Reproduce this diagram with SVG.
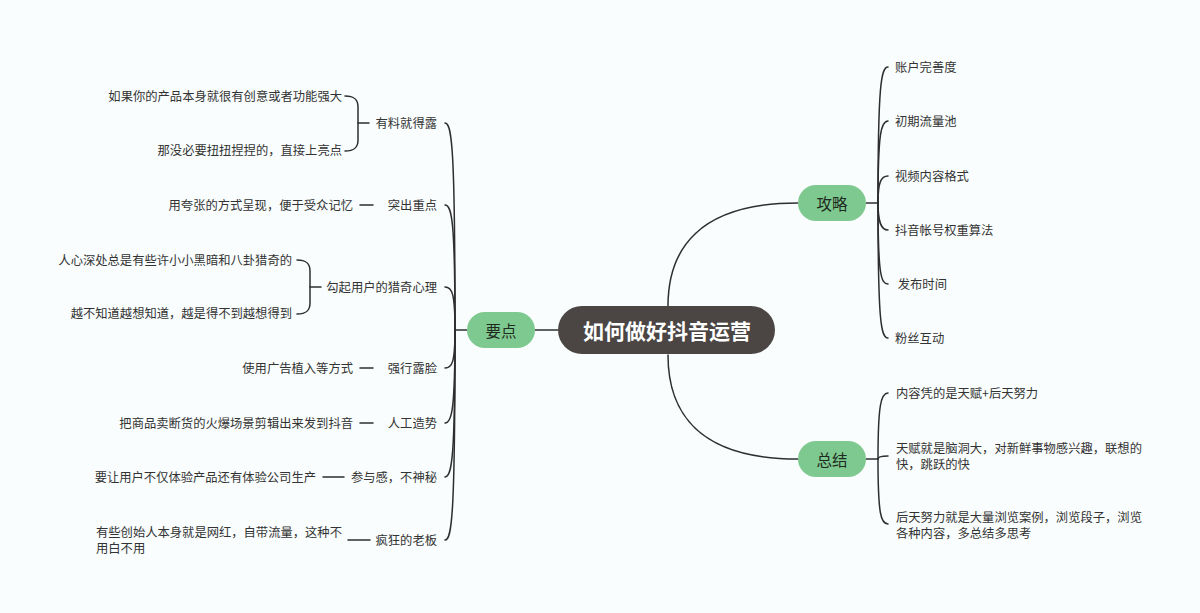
<svg xmlns="http://www.w3.org/2000/svg" width="1200" height="613" viewBox="0 0 1200 613">
<style>
.t{font-family:"Noto Sans CJK SC","Noto Sans",sans-serif;font-size:12.3px;fill:#333333;dominant-baseline:central}
.e{text-anchor:end}
.m{font-family:"Noto Sans CJK SC","Noto Sans",sans-serif;font-size:15.5px;fill:#1f2a1f;text-anchor:middle;dominant-baseline:central}
.c{font-family:"Noto Sans CJK SC","Noto Sans",sans-serif;font-size:21px;font-weight:bold;fill:#ffffff;text-anchor:middle;dominant-baseline:central}
.pill{fill:#7ec98f}
.ln{fill:none;stroke:#2e2e2e;stroke-width:1.5;stroke-linecap:round}
</style>
<rect width="1200" height="613" fill="#f9fdfd"/>
<g id="connectors" class="ln">
<path d="M558,330 H535"/>
<path d="M467,330 H455"/>
<path d="M455,330 C455,148 452,123 445,123"/>
<path d="M455,330 C455,222 452,205 445,205"/>
<path d="M455,330 C455,293 452,287 445,287"/>
<path d="M455,330 C455,363 452,368 445,368"/>
<path d="M455,330 C455,409 452,423 445,423"/>
<path d="M455,330 C455,457 452,477 445,477"/>
<path d="M455,330 C455,515 452,540 445,540"/>
<path d="M345,96 C354,96 358,99 358,107 L358,140 C358,148 354,151 345,151"/>
<path d="M358,123 H369"/>
<path d="M360,205 H373"/>
<path d="M297,260 C306,260 310,263 310,271 L310,303 C310,311 306,314 297,314"/>
<path d="M310,287 H321"/>
<path d="M360,368 H373"/>
<path d="M360,423 H373"/>
<path d="M323,477 H344"/>
<path d="M348,540 H370"/>
<path d="M668,306 C668,250 698,203 798,203"/>
<path d="M668,355 C668,412 698,459 798,459"/>
<path d="M866,203 H878"/>
<path d="M878,203 C878,86 881,67 888,67"/>
<path d="M878,203 C878,133 881,121 888,121"/>
<path d="M878,203 C878,182 881,176 888,176"/>
<path d="M878,203 C878,222 881,230 888,230"/>
<path d="M878,203 C878,275 881,284 888,284"/>
<path d="M878,203 C878,323 881,338 888,338"/>
<path d="M866,459 H878"/>
<path d="M878,459 C878,405 881,393 888,393"/>
<path d="M878,459 C878,457 881,456 888,456"/>
<path d="M878,459 C878,515 881,524 888,524"/>
</g>
<g id="root">
<rect x="558" y="306" width="217" height="48" rx="24" fill="#4b4544"/>
<text class="c" x="667" y="330">如何做好抖音运营</text>
</g>
<g id="yaodian">
<rect class="pill" x="467" y="312" width="68" height="36" rx="18"/>
<text class="m" x="501" y="330">要点</text>
</g>
<g id="gonglve">
<rect class="pill" x="798" y="185" width="68" height="36" rx="18"/>
<text class="m" x="832" y="203">攻略</text>
</g>
<g id="zongjie">
<rect class="pill" x="798" y="441" width="68" height="36" rx="18"/>
<text class="m" x="832" y="459">总结</text>
</g>
<g id="l1"><text class="t e" x="437" y="123">有料就得露</text></g>
<g id="l1a"><text class="t e" x="342" y="96">如果你的产品本身就很有创意或者功能强大</text></g>
<g id="l1b"><text class="t e" x="342" y="150">那没必要扭扭捏捏的，直接上亮点</text></g>
<g id="l2"><text class="t e" x="437" y="205">突出重点</text></g>
<g id="l2a"><text class="t e" x="353" y="205">用夸张的方式呈现，便于受众记忆</text></g>
<g id="l3"><text class="t e" x="437" y="287">勾起用户的猎奇心理</text></g>
<g id="l3a"><text class="t e" x="292" y="260">人心深处总是有些许小小黑暗和八卦猎奇的</text></g>
<g id="l3b"><text class="t e" x="292" y="313">越不知道越想知道，越是得不到越想得到</text></g>
<g id="l4"><text class="t e" x="437" y="368">强行露脸</text></g>
<g id="l4a"><text class="t e" x="353" y="368">使用广告植入等方式</text></g>
<g id="l5"><text class="t e" x="437" y="423">人工造势</text></g>
<g id="l5a"><text class="t e" x="353" y="423">把商品卖断货的火爆场景剪辑出来发到抖音</text></g>
<g id="l6"><text class="t e" x="437" y="477">参与感，不神秘</text></g>
<g id="l6a"><text class="t e" x="316" y="477">要让用户不仅体验产品还有体验公司生产</text></g>
<g id="l7"><text class="t e" x="437" y="540">疯狂的老板</text></g>
<g id="l7a"><text class="t" x="96" y="532">有些创始人本身就是网红，自带流量，这种不</text><text class="t" x="96" y="548">用白不用</text></g>
<g id="r1"><text class="t" x="895" y="67">账户完善度</text></g>
<g id="r2"><text class="t" x="895" y="121">初期流量池</text></g>
<g id="r3"><text class="t" x="895" y="176">视频内容格式</text></g>
<g id="r4"><text class="t" x="895" y="230">抖音帐号权重算法</text></g>
<g id="r5"><text class="t" x="895" y="284" xml:space="preserve"> 发布时间</text></g>
<g id="r6"><text class="t" x="895" y="338">粉丝互动</text></g>
<g id="s1"><text class="t" x="896" y="393">内容凭的是天赋+后天努力</text></g>
<g id="s2"><text class="t" x="896" y="448">天赋就是脑洞大，对新鲜事物感兴趣，联想的</text><text class="t" x="896" y="464">快，跳跃的快</text></g>
<g id="s3"><text class="t" x="896" y="517">后天努力就是大量浏览案例，浏览段子，浏览</text><text class="t" x="896" y="533">各种内容，多总结多思考</text></g>
</svg>
